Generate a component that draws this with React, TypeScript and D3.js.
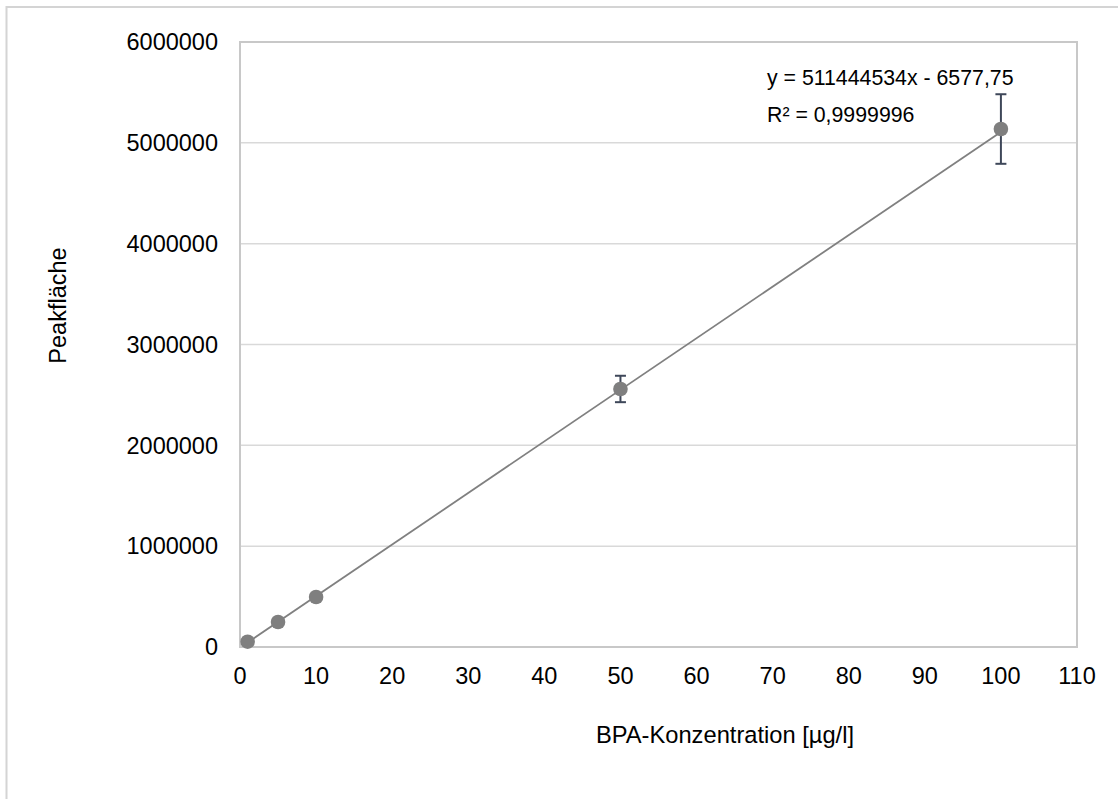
import React from "react";
import * as d3 from "d3";

const concentrations = [1, 5, 10, 50, 100];
const peakAreas = [52500, 248000, 496000, 2559000, 5137000];
const errors = [0, 0, 0, 131000, 345000];
const xTicks = [0, 10, 20, 30, 40, 50, 60, 70, 80, 90, 100, 110];
const yTicks = [0, 1000000, 2000000, 3000000, 4000000, 5000000, 6000000];
const trendSlope = 51144.4534;
const trendIntercept = -6577.75;
const equationLabel = "y = 511444534x - 6577,75";
const r2Label = "R\u00B2 = 0,9999996";
const xTitle = "BPA-Konzentration [\u00B5g/l]";
const yTitle = "Peakfl\u00E4che";

const W = 1118;
const H = 799;
const plot = { left: 240, right: 1077, top: 42, bottom: 647 };
const font = "'Liberation Sans', Arial, sans-serif";

export default function App() {
  const x = d3.scaleLinear().domain([0, 110]).range([plot.left, plot.right]);
  const y = d3.scaleLinear().domain([0, 6000000]).range([plot.bottom, plot.top]);
  const trendX = [concentrations[0], concentrations[concentrations.length - 1]];
  const line = d3
    .line<number>()
    .x((d) => x(d))
    .y((d) => y(trendSlope * d + trendIntercept));

  return (
    <svg
      width={W}
      height={H}
      style={{ position: "absolute", left: 0, top: 0, background: "#fff" }}
      fontFamily={font}
    >
      <rect x={6.5} y={7} width={1200} height={900} fill="#fff" stroke="#d4d4d4" strokeWidth={2} />
      {yTicks.map((t) => (
        <line key={"g" + t} x1={plot.left} x2={plot.right} y1={y(t)} y2={y(t)} stroke="#d9d9d9" strokeWidth={1.5} />
      ))}
      <rect
        x={plot.left}
        y={plot.top}
        width={plot.right - plot.left}
        height={plot.bottom - plot.top}
        fill="none"
        stroke="#c8c8c8"
        strokeWidth={2}
      />
      {yTicks.map((t) => (
        <text key={"yt" + t} x={218} y={y(t)} dy="0.35em" textAnchor="end" fontSize={23.5} fill="#000">
          {t}
        </text>
      ))}
      {xTicks.map((t) => (
        <text key={"xt" + t} x={x(t)} y={684} textAnchor="middle" fontSize={23.5} fill="#000">
          {t}
        </text>
      ))}
      <path d={line(trendX) || ""} fill="none" stroke="#808080" strokeWidth={1.8} />
      {concentrations.map((c, i) =>
        errors[i] > 0 ? (
          <g key={"e" + i} stroke="#3e4759" strokeWidth={2}>
            <line x1={x(c)} x2={x(c)} y1={y(peakAreas[i] + errors[i])} y2={y(peakAreas[i] - errors[i])} />
            <line x1={x(c) - 5.5} x2={x(c) + 5.5} y1={y(peakAreas[i] + errors[i])} y2={y(peakAreas[i] + errors[i])} />
            <line x1={x(c) - 5.5} x2={x(c) + 5.5} y1={y(peakAreas[i] - errors[i])} y2={y(peakAreas[i] - errors[i])} />
          </g>
        ) : null
      )}
      {concentrations.map((c, i) => (
        <circle key={"p" + i} cx={x(c)} cy={y(peakAreas[i])} r={7.3} fill="#7f7f7f" />
      ))}
      <text x={767} y={85} fontSize={21.3} fill="#000">
        {equationLabel}
      </text>
      <text x={767} y={121.7} fontSize={21.3} fill="#000">
        {r2Label}
      </text>
      <text x={725} y={743} textAnchor="middle" fontSize={23.7} fill="#000">
        {xTitle}
      </text>
      <text transform="translate(66,305.5) rotate(-90)" textAnchor="middle" fontSize={23.5} fill="#000">
        {yTitle}
      </text>
    </svg>
  );
}
